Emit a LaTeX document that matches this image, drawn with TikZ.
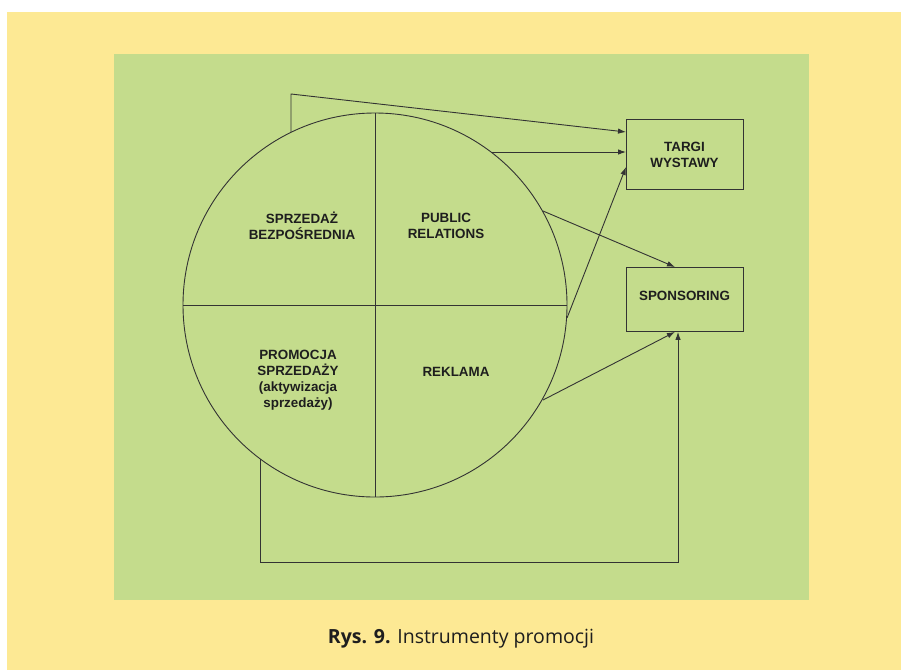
\documentclass[tikz,border=0pt]{standalone}
\usepackage{fontspec}
\setmainfont{Liberation Sans}
\newfontfamily\captionfont{Open Sans}
\usetikzlibrary{arrows.meta}
\definecolor{pagebg}{RGB}{253,233,148}
\definecolor{panelbg}{RGB}{196,220,140}
\definecolor{ink}{RGB}{51,51,51}
\definecolor{textink}{RGB}{30,30,30}
\begin{document}
\begin{tikzpicture}[x=1pt,y=-1pt,
  line/.style={draw=ink,line width=0.9pt},
  conn/.style={line,-{Latex[length=8pt,width=5.5pt]}},
  lbl/.style={font=\bfseries\fontsize{13.4}{16}\selectfont,text=textink,align=center,inner sep=0pt},
  boxnode/.style={line,minimum width=117pt,minimum height=70pt,inner sep=0pt,anchor=north west}]
  % page and panel
  \useasboundingbox (0,0) rectangle (901,670);
  \fill[white] (0,0) rectangle (901,670);
  \fill[pagebg] (7,12) rectangle (901,670);
  \fill[panelbg] (114,54) rectangle (809,600);

  % circle with quadrants
  \coordinate (c) at (375,305);
  \draw[line] (c) circle[radius=192];
  \draw[line] (183,305) -- (567,305);
  \draw[line] (375,113) -- (375,497);

  % quadrant labels
  \node[lbl] (sb) at (302,226) {SPRZEDAŻ\\BEZPOŚREDNIA};
  \node[lbl] (pr) at (446,226) {PUBLIC\\RELATIONS};
  \node[lbl] (ps) at (298,380) {PROMOCJA\\SPRZEDAŻY\\(aktywizacja\\sprzedaży)};
  \node[lbl] (rk) at (456,372) {REKLAMA};

  % target boxes
  \node[boxnode] (tw) at (626,119) {};
  \node[lbl] (twt) at (684.5,155) {TARGI\\WYSTAWY};
  \node[boxnode,minimum height=64pt] (sp) at (626,267) {};
  \node[lbl] (spt) at (684.5,296) {SPONSORING};

  % attachment points on the circle
  \coordinate (a1) at (291,132);
  \coordinate (a2) at (491,152);
  \coordinate (a3) at (567,318);
  \coordinate (a4) at (543,211);
  \coordinate (a5) at (543,400);
  \coordinate (a6) at (260,459);
  \coordinate (k1) at (291,94);
  \coordinate (k2) at (260,562);
  \coordinate (k3) at (678,562);

  % connectors
  \draw[conn] (a1) -- (k1) -- (tw.west |- 0,132);
  \draw[conn] (a2) -- (tw.west |- 0,152);
  \draw[conn] (a3) -- (tw.west |- 0,167);
  \draw[conn] (a4) -- (sp.north -| 675,0);
  \draw[conn] (a5) -- (sp.south -| 675,0);
  \draw[conn] (a6) -- (k2) -- (k3) -- (sp.south -| 678,0);

  % caption
  \node[font=\captionfont\fontsize{19.5}{22}\selectfont,text=textink,inner sep=0pt] (cap) at (461,639)
    {\textbf{Rys. 9.} Instrumenty promocji};
\end{tikzpicture}
\end{document}
